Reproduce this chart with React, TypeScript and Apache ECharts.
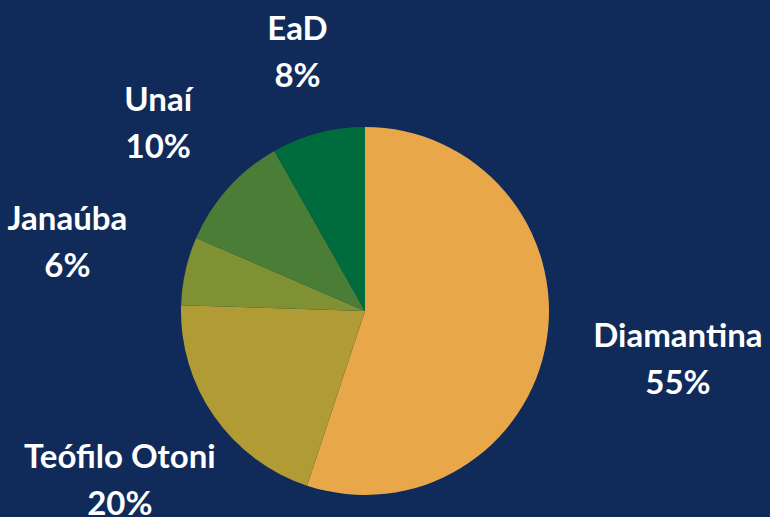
import React, { useEffect, useRef } from 'react';
import * as echarts from 'echarts';

const categories = ['Diamantina', 'Teófilo Otoni', 'Janaúba', 'Unaí', 'EaD'];
const values = [55.1, 20.4, 6.0, 10.3, 8.2];
const colors = ['#E8A84A', '#B19B35', '#7F9132', '#4A7E37', '#006B3C'];
const labelDistances = [317, 299, 305, 278, 265];

const CX = 365;
const CY = 311;
const R = 184;
const LABEL_DY = -4;

export default function App() {
  const ref = useRef<HTMLDivElement>(null);
  useEffect(() => {
    document.body.style.margin = '0';
    const chart = echarts.init(ref.current!, null, { renderer: 'svg' });
    const total = values.reduce((a, b) => a + b, 0);
    const mids: number[] = [];
    let acc = 0;
    values.forEach((v) => {
      mids.push(((acc + v / 2) / total) * 2 * Math.PI);
      acc += v;
    });
    chart.setOption({
      animation: false,
      backgroundColor: '#102B5A',
      series: [
        {
          type: 'pie',
          center: [CX, CY],
          radius: R,
          startAngle: 90,
          clockwise: true,
          percentPrecision: 2,
          silent: true,
          data: categories.map((name, i) => ({
            name,
            value: values[i],
            itemStyle: { color: colors[i] },
          })),
          itemStyle: { borderWidth: 0 },
          label: {
            show: true,
            formatter: (p: any) => p.name + '\n' + Math.round((values[p.dataIndex] / total) * 100) + '%',
            color: '#ffffff',
            fontFamily: 'Lato',
            fontWeight: 'bold',
            fontSize: 33,
            lineHeight: 47,
            align: 'center',
            overflow: 'none',
          },
          labelLine: { show: false },
          labelLayout: (p: any) => {
            const a = mids[p.dataIndex];
            const d = labelDistances[p.dataIndex];
            return {
              x: CX + d * Math.sin(a),
              y: CY - d * Math.cos(a) + LABEL_DY,
              align: 'center',
              verticalAlign: 'middle',
            };
          },
          emphasis: { disabled: true },
        },
      ],
    });
    return () => chart.dispose();
  }, []);
  return <div ref={ref} style={{ width: 770, height: 517 }} />;
}
